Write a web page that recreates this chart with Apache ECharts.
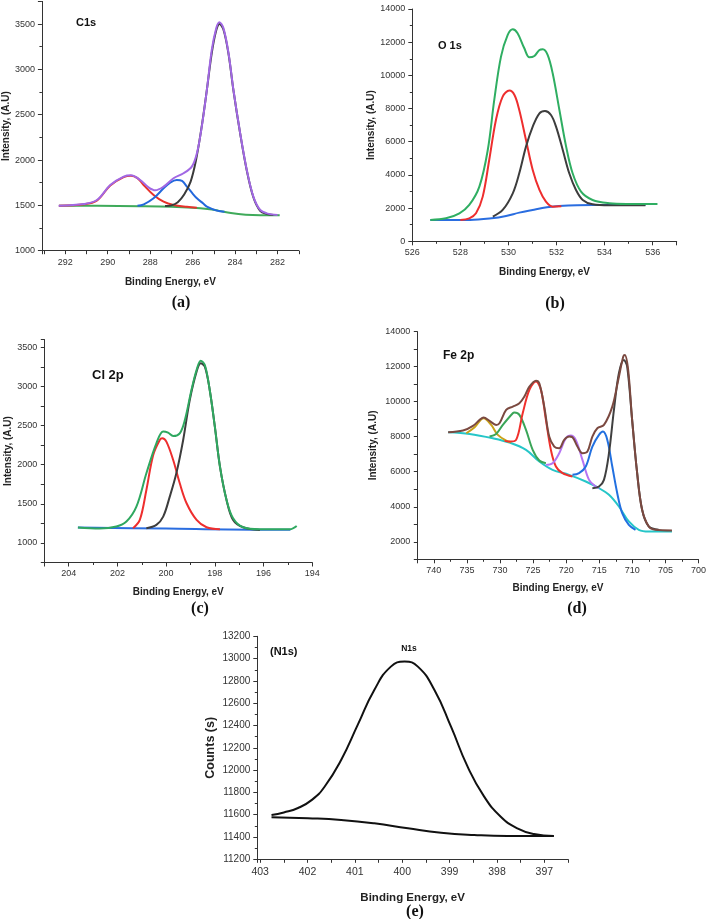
<!DOCTYPE html>
<html>
<head>
<meta charset="utf-8">
<script src="https://cdn.jsdelivr.net/npm/echarts@6/dist/echarts.min.js"></script>
<style>
html,body{margin:0;padding:0;background:#fff}
#main{width:709px;height:919px}
</style>
</head>
<body>
<div id="main"></div>
<script>
// (a) C1s  [binding energy, intensity]
var c1sBase = [[292.3,1497],[290.5,1495],[288.5,1490],[287,1484],[286,1474],[285.3,1460],[284.8,1442],[284.2,1415],[283.5,1397],[282.8,1392],[281.9,1392]];
var c1sRed = [[292.3,1497],[291.1,1512],[290.5,1555],[289.88,1720],[289.25,1812],[288.91,1828],[288.6,1800],[288.31,1725],[287.84,1615],[287.37,1541],[286.9,1504],[286.27,1484],[285.8,1474]];
var c1sBlue = [[288.6,1495],[288.3,1512],[287.84,1578],[287.37,1688],[287.06,1751],[286.75,1780],[286.5,1770],[286.27,1707],[286.0,1630],[285.8,1578],[285.5,1520],[285.33,1486],[284.86,1442],[284.5,1430]];
var c1sBlack = [[287.3,1492],[287.0,1500],[286.7,1535],[286.4,1620],[286.1,1760],[285.85,1990],[285.6,2330],[285.35,2740],[285.1,3180],[284.9,3420],[284.74,3500],[284.55,3440],[284.31,3170],[284.08,2770],[283.76,2290],[283.45,1885],[283.14,1590],[282.82,1440],[282.5,1405],[282.2,1395]];
var c1sEnvelope = [[292.31,1497],[291.14,1515],[290.51,1559],[289.88,1725],[289.25,1817],[288.91,1832],[288.47,1780],[288.08,1699],[287.76,1666],[287.37,1707],[286.9,1799],[286.43,1854],[286.04,1927],[285.8,2075],[285.57,2369],[285.33,2774],[285.1,3215],[284.89,3455],[284.74,3521],[284.55,3455],[284.31,3179],[284.08,2774],[283.76,2295],[283.45,1891],[283.14,1596],[282.82,1449],[282.51,1412],[282.0,1394]];

// (b) O 1s
var o1sBase = [[526.75,1286],[528.4,1286],[529.3,1386],[529.9,1527],[530.45,1728],[531.0,1888],[531.6,2049],[532.1,2130],[533.5,2190],[535.7,2190]];
var o1sRed = [[528.0,1290],[528.37,1386],[528.65,1688],[528.93,2692],[529.2,4902],[529.48,7313],[529.76,8719],[530.04,9081],[530.25,8820],[530.45,7915],[530.73,6107],[531.01,4299],[531.29,3094],[531.56,2391],[531.84,2089],[532.2,2110]];
var o1sBlack = [[529.35,1487],[529.76,1888],[530.18,2893],[530.45,4098],[530.73,5706],[531.01,6911],[531.29,7715],[531.52,7855],[531.77,7614],[531.98,6911],[532.26,5505],[532.53,4098],[532.81,3094],[533.09,2491],[533.5,2230],[534.2,2170],[535.7,2170]];
var o1sEnvelope = [[526.75,1286],[527.4,1386],[527.96,1688],[528.37,2190],[528.79,3295],[529.14,5505],[529.41,8518],[529.69,11130],[529.97,12436],[530.18,12778],[530.38,12536],[530.66,11632],[530.87,11090],[531.08,11170],[531.29,11532],[531.43,11572],[531.63,11230],[531.84,10125],[532.12,7915],[532.4,5706],[532.67,4098],[533.02,2993],[533.5,2491],[534.2,2290],[534.9,2250],[536.2,2250]];

// (c) Cl 2p
var cl2pBase = [[203.62,1196],[200.0,1183],[196.5,1170],[194.9,1170]];
var cl2pRed = [[201.36,1187],[201.08,1294],[200.81,1677],[200.53,2124],[200.26,2316],[200.16,2337],[199.99,2295],[199.71,2060],[199.44,1762],[199.16,1507],[198.75,1294],[198.34,1200],[197.79,1175]];
var cl2pBlack = [[200.81,1187],[200.4,1230],[200.12,1336],[199.85,1592],[199.58,1890],[199.3,2316],[199.03,2827],[198.75,3189],[198.58,3296],[198.41,3253],[198.21,2955],[198.0,2486],[197.79,1975],[197.52,1549],[197.25,1294],[196.84,1200],[196.15,1166]];
var cl2pEnvelope = [[203.62,1196],[202.73,1183],[202.04,1209],[201.63,1273],[201.22,1464],[200.81,1890],[200.4,2273],[200.12,2425],[199.92,2410],[199.71,2367],[199.44,2401],[199.23,2572],[198.96,2955],[198.75,3210],[198.58,3330],[198.41,3274],[198.21,2955],[198.0,2486],[197.79,1975],[197.52,1549],[197.25,1315],[196.84,1200],[196.15,1175],[194.92,1175],[194.64,1217]];

// (d) Fe 2p
var fe2pBase = [[737.84,8254],[734.59,8159],[731.08,7912],[728.57,7665],[726.07,7247],[724.06,6581],[722.06,6106],[719.55,5821],[717.04,5441],[715.04,5061],[713.53,4680],[712.03,4015],[710.53,3160],[709.02,2684],[707.52,2589],[704.01,2589]];
var fe2pOlive = [[735.09,8197],[733.83,8540],[732.48,9053],[731.33,8673],[730.33,8102],[729.07,7779],[728.32,7684]];
var fe2pGreen = [[731.58,8007],[730.58,8159],[729.57,8673],[728.07,9338],[727.82,9376],[727.07,9243],[726.07,8387],[725.06,7247],[724.06,6638],[723.06,6486]];
var fe2pRed = [[729.3,7760],[728.57,7720],[727.57,7817],[726.57,9338],[725.56,10668],[724.56,11144],[723.81,10668],[723.06,8958],[722.31,7247],[721.55,6296],[720.55,5916],[719.05,5726]];
var fe2pPurple = [[723.06,6391],[722.06,6486],[721.05,7057],[720.05,7912],[719.3,8064],[718.55,7817],[717.54,6676],[716.54,5536],[715.54,5156],[715.04,5061]];
var fe2pBlue = [[719.05,5821],[718.05,5916],[717.04,6296],[716.04,7437],[715.04,8102],[714.44,8292],[713.78,7817],[713.03,6296],[712.28,4775],[711.53,3635],[710.53,2969],[709.52,2684]];
var fe2pBlack = [[716.04,5061],[715.04,5156],[714.29,5536],[713.53,7057],[712.78,9528],[712.03,11619],[711.28,12380],[710.78,12000],[710.03,8958],[709.27,5916],[708.52,3825],[707.52,2874],[706.02,2684]];
var fe2pEnvelope = [[737.84,8254],[735.59,8349],[734.09,8616],[733.08,8958],[732.48,9091],[731.58,8901],[730.58,8673],[730.08,8768],[729.07,9528],[728.07,9718],[727.07,9908],[726.32,10288],[725.56,10858],[724.56,11201],[724.06,11049],[723.31,9718],[722.56,8007],[721.8,7437],[721.05,7342],[720.3,7817],[719.55,8007],[719.05,7969],[718.3,7437],[717.54,7057],[716.79,7152],[716.04,8007],[715.29,8482],[714.29,8673],[713.03,9718],[712.13,11239],[711.38,12570],[711.13,12665],[710.63,11809],[710.03,8958],[709.27,5916],[708.52,3825],[707.52,2874],[706.52,2684],[704.01,2646]];

// (e) N1s
var n1sPeak = [[402.76,11597],[402.5,11620],[402.2,11660],[401.9,11735],[401.64,11851],[401.29,12091],[400.94,12405],[400.59,12719],[400.24,12928],[399.95,12973],[399.67,12928],[399.32,12719],[398.97,12389],[398.62,12031],[398.27,11762],[397.92,11582],[397.57,11478],[397.22,11427],[396.8,11409]];
var n1sBase = [[402.76,11577],[401.99,11568],[401.29,11553],[400.59,11523],[399.88,11478],[399.18,11439],[398.48,11418],[397.78,11409],[396.8,11409]];

var chart = echarts.init(document.getElementById('main'));

var ink = '#222';
var grids = [
  {left:41.7, top:1.4, width:257.1, height:249.3},
  {left:412.3, top:9, width:264.4, height:232.3},
  {left:44.3, top:339.5, width:268, height:223},
  {left:417.3, top:331.6, width:282.7, height:227.7},
  {left:257.3, top:636.3, width:310.7, height:223}
];

// labels only where value is a multiple of step
function stepLabel(step){
  return function(v){
    var r = v / step;
    return Math.abs(r - Math.round(r)) < 1e-6 ? String(Math.round(v)) : '';
  };
}

// fine = tick every half step (min not a multiple of step)
function axisBits(step, fine, fs){
  return {
    interval: fine ? step / 2 : step,
    axisTick:{show:true, length:fine ? 3.5 : 4, lineStyle:{color:'#333'}},
    minorTick:{show:!fine, splitNumber:2, length:2.5, lineStyle:{color:'#333'}},
    axisLabel:{fontFamily:'Liberation Sans', fontSize:fs, color:'#333', margin:7, formatter:stepLabel(step)}
  };
}

function xAx(i, min, max, step, fine, gap, fs){
  var b = axisBits(step, fine, fs - 1);
  return {
    type:'value', gridIndex:i, min:min, max:max, interval:b.interval, inverse:i !== 1,
    name:'Binding Energy, eV', nameLocation:'middle', nameGap:gap,
    nameTextStyle:{fontFamily:'Liberation Sans', fontWeight:'bold', fontSize:fs, color:ink},
    axisLine:{onZero:false, lineStyle:{color:'#333', width:1}},
    axisTick:b.axisTick, minorTick:b.minorTick, axisLabel:b.axisLabel,
    splitLine:{show:false}
  };
}

function yAx(i, min, max, step, fine, name, gap, fs, nfs){
  var b = axisBits(step, fine, fs);
  return {
    type:'value', gridIndex:i, min:min, max:max, interval:b.interval,
    name:name, nameLocation:'middle', nameGap:gap,
    nameTextStyle:{fontFamily:'Liberation Sans', fontWeight:'bold', fontSize:nfs, color:ink},
    axisLine:{show:true, onZero:false, lineStyle:{color:'#333', width:1}},
    axisTick:b.axisTick, minorTick:b.minorTick, axisLabel:b.axisLabel,
    splitLine:{show:false}
  };
}

function curve(i, data, color, sm){
  return {
    type:'line', xAxisIndex:i, yAxisIndex:i, data:data,
    showSymbol:false, smooth:sm || 0.35, silent:true,
    lineStyle:{color:color, width:2}
  };
}

function txt(x, y, s, size, family, align){
  return {
    type:'text', x:x, y:y, silent:true,
    style:{text:s, fill:'#111', fontSize:size, fontWeight:'bold', fontFamily:family,
      textAlign:align || 'left', textVerticalAlign:'middle'}
  };
}

chart.setOption({
  animation:false,
  backgroundColor:'#fff',
  grid:grids,
  xAxis:[
    xAx(0, 281, 293.1, 2, true, 27, 10),
    xAx(1, 526, 537, 2, false, 26, 10),
    xAx(2, 194, 205, 2, false, 25, 10),
    xAx(3, 700, 742.5, 5, false, 24, 10),
    xAx(4, 396.5, 403.06, 1, true, 33, 11.5)
  ],
  yAxis:[
    yAx(0, 1000, 3750, 500, false, 'Intensity, (A.U)', 29, 9, 10),
    yAx(1, 0, 14000, 2000, false, 'Intensity, (A.U)', 34, 9, 10),
    yAx(2, 750, 3600, 500, true, 'Intensity, (A.U)', 31, 9, 10),
    yAx(3, 1000, 14000, 2000, true, 'Intensity, (A.U)', 39, 9, 10),
    yAx(4, 11200, 13200, 200, false, 'Counts (s)', 40, 10, 12.5)
  ],
  series:[
    curve(0, c1sBase, '#3faa5a'),
    curve(0, c1sRed, '#e8322b'),
    curve(0, c1sBlue, '#2368dc'),
    curve(0, c1sBlack, '#3a3a3a'),
    curve(0, c1sEnvelope, '#a168e4'),

    curve(1, o1sBase, '#2a6de0'),
    curve(1, o1sRed, '#ee2e2e'),
    curve(1, o1sBlack, '#3d3d3d'),
    curve(1, o1sEnvelope, '#2fae62'),

    curve(2, cl2pBase, '#2a6de0'),
    curve(2, cl2pRed, '#ee2e2e'),
    curve(2, cl2pBlack, '#3d3d3d'),
    curve(2, cl2pEnvelope, '#2fa860'),

    curve(3, fe2pBase, '#26c6c8'),
    curve(3, fe2pOlive, '#c9a21a'),
    curve(3, fe2pGreen, '#3aa558'),
    curve(3, fe2pRed, '#f0302c'),
    curve(3, fe2pPurple, '#b574f2'),
    curve(3, fe2pBlue, '#2270e0'),
    curve(3, fe2pBlack, '#404040'),
    curve(3, fe2pEnvelope, '#7b4940'),

    curve(4, n1sBase, '#111', 0.5),
    curve(4, n1sPeak, '#111', 0.5)
  ],
  graphic:[
    txt(76, 23, 'C1s', 11, 'Liberation Sans'),
    txt(438, 46, 'O 1s', 11, 'Liberation Sans'),
    txt(92, 375, 'Cl 2p', 13, 'Liberation Sans'),
    txt(443, 356, 'Fe 2p', 12, 'Liberation Sans'),
    txt(270, 652, '(N1s)', 11, 'Liberation Sans'),
    txt(409, 649, 'N1s', 8.5, 'Liberation Sans', 'center'),
    txt(181, 303, '(a)', 16, 'Liberation Serif', 'center'),
    txt(555, 304, '(b)', 16, 'Liberation Serif', 'center'),
    txt(200, 609, '(c)', 16, 'Liberation Serif', 'center'),
    txt(577, 609, '(d)', 16, 'Liberation Serif', 'center'),
    txt(415, 912, '(e)', 16, 'Liberation Serif', 'center')
  ]
});
</script>
</body>
</html>
